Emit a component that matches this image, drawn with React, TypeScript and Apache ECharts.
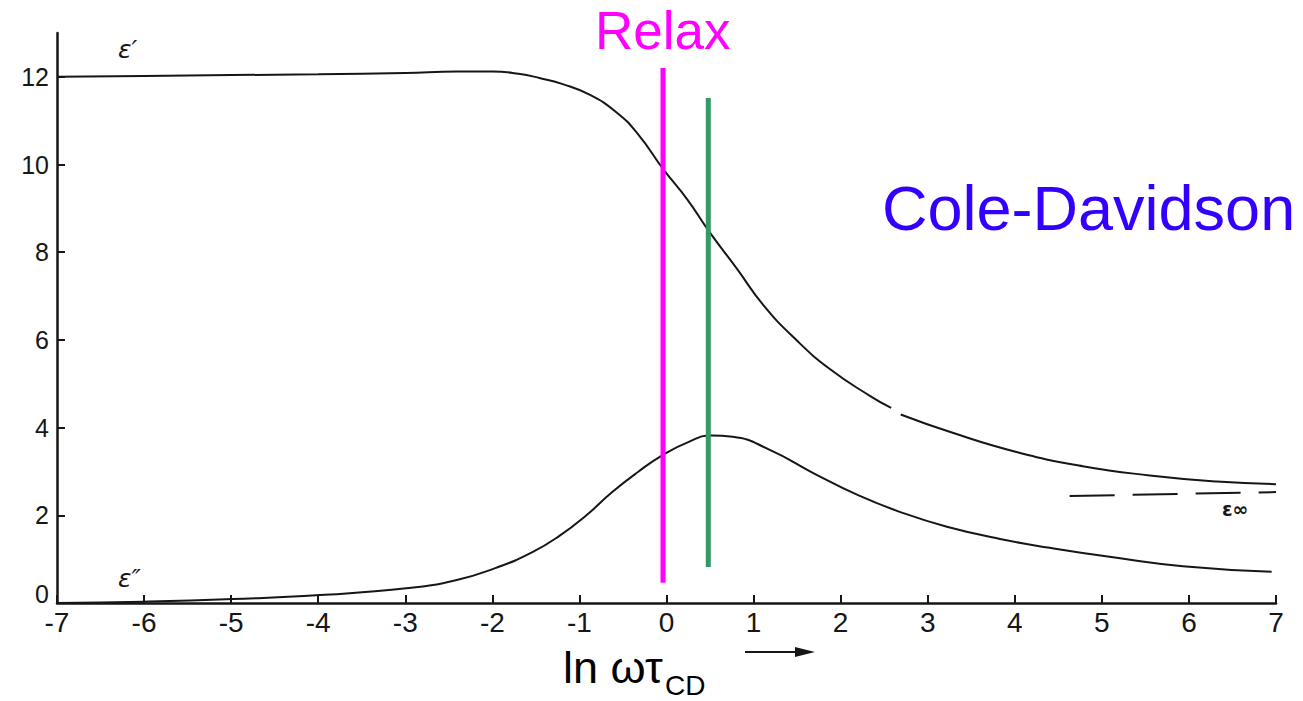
import React, { useEffect, useRef } from "react";
import * as echarts from "echarts";

// ln(omega * tau_CD) axis ticks
const xTicks = [-7, -6, -5, -4, -3, -2, -1, 0, 1, 2, 3, 4, 5, 6, 7];
const yTicks = [0, 2, 4, 6, 8, 10, 12];

const epsPrimeX = [-7, -6, -5, -4, -3, -2.4, -2.0, -1.7, -1.45, -1.2, -0.89, -0.58, -0.33, -0.04, 0.24, 0.48, 0.81, 1.11, 1.48, 1.88, 2.34, 2.58, 2.63, 2.69, 3.26, 4.03, 4.78, 5.55, 6.32, 7];
const epsPrimeY = [12.0, 12.02, 12.04, 12.06, 12.09, 12.12, 12.12, 12.07, 11.97, 11.84, 11.6, 11.2, 10.7, 9.9, 9.2, 8.5, 7.62, 6.8, 6.02, 5.33, 4.72, 4.45, null, 4.3, 3.9, 3.44, 3.12, 2.91, 2.77, 2.71];

// epsilon'' (loss)
const epsDoubleX = [-7, -6, -4.98, -3.98, -2.96, -2.42, -1.96, -1.54, -1.23, -0.92, -0.63, -0.32, -0.04, 0.25, 0.51, 0.76, 1.18, 1.68, 2.2, 2.72, 3.22, 3.83, 4.4, 5.17, 5.93, 6.95];
const epsDoubleY = [0, 0.03, 0.09, 0.18, 0.34, 0.52, 0.8, 1.16, 1.53, 2.0, 2.52, 3.0, 3.38, 3.67, 3.82, 3.79, 3.5, 2.97, 2.46, 2.05, 1.74, 1.46, 1.26, 1.03, 0.84, 0.71];

// epsilon infinity asymptote (dashed)
const epsInfX = [4.63, 7];
const epsInfY = [2.44, 2.53];

// marker lines
const relaxX = [-0.04, -0.04];
const relaxY = [0.46, 12.2];
const cdX = [0.48, 0.48];
const cdY = [0.82, 11.52];

const zip = (xs: number[], ys: (number | null)[]) =>
  xs.map((x, i) => [x, ys[i] === null ? "-" : ys[i]]);

const INK = "#161616";
const SANS = '"Liberation Sans", Arial, sans-serif';

export default function App() {
  const ref = useRef<HTMLDivElement>(null);

  useEffect(() => {
    document.body.style.margin = "0";
    const chart = echarts.init(ref.current!, null, { renderer: "svg" });
    const curve = (name: string, xs: number[], ys: (number | null)[]) => ({
      name,
      type: "line",
      data: zip(xs, ys),
      smooth: 0.5,
      showSymbol: false,
      symbol: "none",
      lineStyle: { color: INK, width: 2 },
      z: 2,
    });
    chart.setOption({
      animation: false,
      backgroundColor: "#ffffff",
      grid: { left: 57, right: 27, top: 33, bottom: 98 },
      xAxis: {
        type: "value",
        min: -7,
        max: 7,
        interval: 1,
        axisLine: { show: true, onZero: false, lineStyle: { color: INK, width: 2.5 } },
        axisTick: { show: true, inside: true, length: 8, customValues: xTicks, lineStyle: { color: INK, width: 2 } },
        axisLabel: {
          margin: 5,
          fontSize: 28,
          fontFamily: SANS,
          color: INK,
          customValues: xTicks,
          formatter: (v: number) => String(v),
        },
        splitLine: { show: false },
      },
      yAxis: {
        type: "value",
        min: 0,
        max: 13,
        interval: 2,
        axisLine: { show: true, onZero: false, lineStyle: { color: INK, width: 2.5 } },
        axisTick: {
          show: true,
          inside: true,
          length: 8,
          customValues: yTicks,
          lineStyle: { color: INK, width: 2 },
        },
        axisLabel: {
          margin: 8,
          fontSize: 25,
          fontFamily: SANS,
          color: INK,
          customValues: yTicks,
          formatter: (v: number) => (v === 0 ? "{z|0}" : v === 13 ? "" : String(v)),
          rich: {
            z: { fontSize: 25, fontFamily: SANS, color: INK, padding: [0, 0, 18, 0] },
          },
        },
        splitLine: { show: false },
      },
      series: [
        curve("ε′", epsPrimeX, epsPrimeY),
        curve("ε″", epsDoubleX, epsDoubleY),
        {
          name: "ε∞",
          type: "line",
          data: zip(epsInfX, epsInfY),
          showSymbol: false,
          symbol: "none",
          lineStyle: { color: INK, width: 2, type: [45, 18] },
          z: 2,
        },
        {
          name: "Relax",
          type: "line",
          data: zip(relaxX, relaxY),
          showSymbol: false,
          symbol: "none",
          lineStyle: { color: "#ff00ff", width: 5, cap: "butt" },
          z: 3,
        },
        {
          name: "Cole-Davidson",
          type: "line",
          data: zip(cdX, cdY),
          showSymbol: false,
          symbol: "none",
          lineStyle: { color: "#339966", width: 5, cap: "butt" },
          z: 3,
        },
      ],
      graphic: [
        {
          type: "text",
          left: 595,
          top: 4,
          style: { text: "Relax", fill: "#ff00ff", font: `53px ${SANS}` },
        },
        {
          type: "text",
          x: 882,
          y: 208,
          style: {
            text: "Cole-Davidson",
            fill: "#3300ff",
            font: `63px ${SANS}`,
            verticalAlign: "middle",
          },
        },
        {
          type: "text",
          x: 563,
          y: 667,
          style: { text: "ln ωτ", fill: "#000", font: `45px ${SANS}`, verticalAlign: "middle" },
        },
        {
          type: "text",
          x: 665,
          y: 685,
          style: { text: "CD", fill: "#000", font: `28px ${SANS}`, verticalAlign: "middle" },
        },
        {
          type: "line",
          shape: { x1: 745, y1: 652, x2: 800, y2: 652 },
          style: { stroke: INK, lineWidth: 2 },
        },
        {
          type: "polygon",
          shape: { points: [[795, 647], [815, 652], [795, 657]] },
          style: { fill: INK },
        },
        {
          type: "text",
          x: 118,
          y: 49,
          style: { text: "ε′", fill: INK, font: `italic 25px "DejaVu Sans", sans-serif`, verticalAlign: "middle" },
        },
        {
          type: "text",
          x: 118,
          y: 578,
          style: { text: "ε″", fill: INK, font: `italic 25px "DejaVu Sans", sans-serif`, verticalAlign: "middle" },
        },
        {
          type: "text",
          x: 1222,
          y: 509,
          style: { text: "ε∞", fill: INK, font: `bold 19px "DejaVu Sans", sans-serif`, verticalAlign: "middle" },
        },
      ],
    });
    return () => chart.dispose();
  }, []);

  return (
    <div
      ref={ref}
      style={{ position: "absolute", left: 0, top: 0, width: 1303, height: 701 }}
    />
  );
}
